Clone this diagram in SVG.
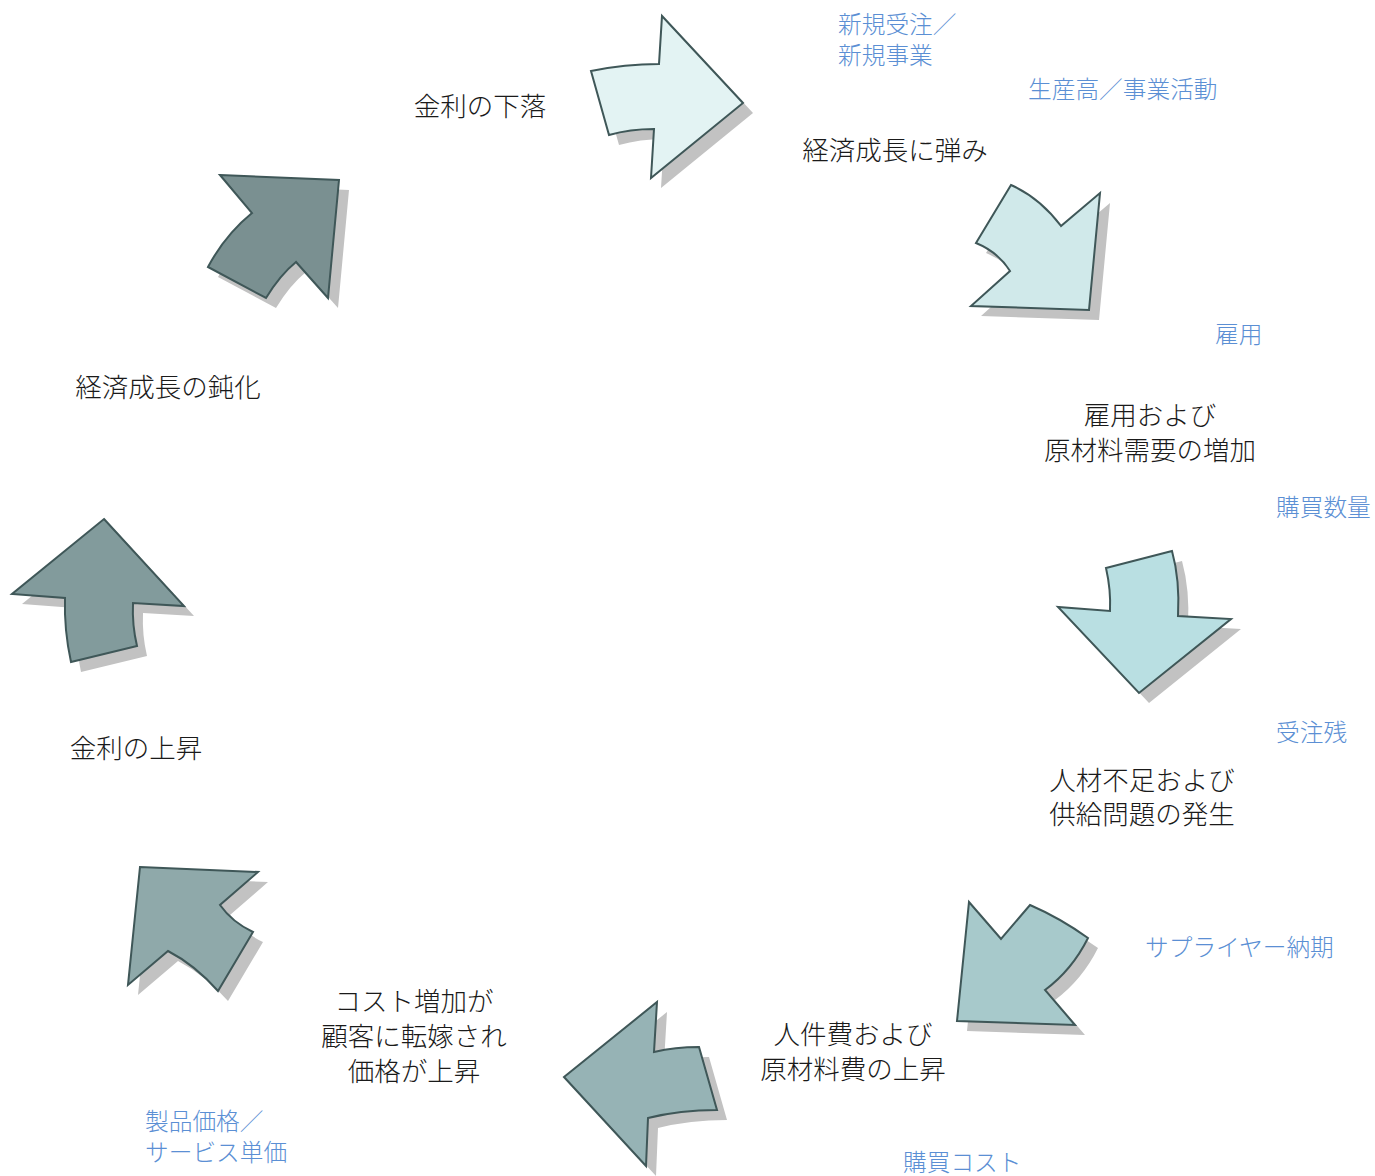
<svg xmlns="http://www.w3.org/2000/svg" xmlns:xlink="http://www.w3.org/1999/xlink" width="1375" height="1176" viewBox="0 0 1375 1176">
<style>
.arr{stroke:#3f5758;stroke-width:2;stroke-linejoin:miter}
.sh{fill:#c2c2c2;stroke:none}
.t{font-family:"Liberation Serif","Noto Sans CJK JP",serif;font-size:26.5px;font-weight:300;fill:#1a1a1a;text-anchor:middle;dominant-baseline:central}
.b{font-family:"Liberation Sans","Noto Sans CJK JP",sans-serif;font-size:23.7px;font-weight:300;fill:#5b8fd4;dominant-baseline:central}
</style>
<defs>
<path id="p1" d="M591,71 Q625,64 659,64 L662,16 L743,103 L651,178 L654,129 Q630,129 609,135 Z"/>
<path id="p2" d="M1011,185 Q1040,198 1061,226 L1100,193 L1089,310 L971,306 L1010,271 Q998,252 976,243 Z"/>
<path id="p3" d="M1106,568 L1172,551 Q1180,580 1178,616 L1231,619 L1139,693 L1058,607 L1110,611 Q1111,590 1106,568 Z"/>
<path id="p4" d="M969,902 L1001,939 L1030,905 Q1060,918 1088,938 Q1072,970 1045,990 L1075,1025 L957,1021 Z"/>
<path id="p5" d="M564,1077 L657,1002 L654,1052 Q675,1047 699,1047 L717,1110 Q680,1110 648,1118 L646,1166 Z"/>
<path id="p6" d="M140,867 L258,872 L220,905 Q232,922 253,932 L218,991 Q195,965 168,951 L128,985 Z"/>
<path id="p7" d="M104,519 L184,606 L133,603 Q132,625 137,646 L71,662 Q64,630 65,598 L12,594 Z"/>
<path id="p8" d="M220,175 L339,180 L328,298 L296,262 Q280,275 266,298 L208,267 Q225,235 252,213 Z"/>
</defs>
<g id="connectors">
<g id="arrow1"><use xlink:href="#p1" class="sh" transform="translate(10,10)"/><use xlink:href="#p1" class="arr" fill="#e3f3f3"/></g>
<g id="arrow2"><use xlink:href="#p2" class="sh" transform="translate(10,10)"/><use xlink:href="#p2" class="arr" fill="#d0e9ea"/></g>
<g id="arrow3"><use xlink:href="#p3" class="sh" transform="translate(10,10)"/><use xlink:href="#p3" class="arr" fill="#b9dfe2"/></g>
<g id="arrow4"><use xlink:href="#p4" class="sh" transform="translate(10,10)"/><use xlink:href="#p4" class="arr" fill="#a7c9cb"/></g>
<g id="arrow5"><use xlink:href="#p5" class="sh" transform="translate(10,10)"/><use xlink:href="#p5" class="arr" fill="#96b3b5"/></g>
<g id="arrow6"><use xlink:href="#p6" class="sh" transform="translate(10,10)"/><use xlink:href="#p6" class="arr" fill="#8fa9aa"/></g>
<g id="arrow7"><use xlink:href="#p7" class="sh" transform="translate(10,10)"/><use xlink:href="#p7" class="arr" fill="#829b9c"/></g>
<g id="arrow8"><use xlink:href="#p8" class="sh" transform="translate(10,10)"/><use xlink:href="#p8" class="arr" fill="#7a9091"/></g>
</g>
<g id="node-kinri-geraku"><text class="t" x="480" y="107">金利の下落</text></g>
<g id="node-keizai-hazumi"><text class="t" x="895" y="151">経済成長に弾み</text></g>
<g id="node-koyou"><text class="t" x="1150" y="416">雇用および</text><text class="t" x="1150" y="451">原材料需要の増加</text></g>
<g id="node-jinzai"><text class="t" x="1142" y="781">人材不足および</text><text class="t" x="1142" y="815">供給問題の発生</text></g>
<g id="node-jinkenhi"><text class="t" x="853" y="1035">人件費および</text><text class="t" x="853" y="1070">原材料費の上昇</text></g>
<g id="node-cost"><text class="t" x="414" y="1002">コスト増加が</text><text class="t" x="414" y="1037">顧客に転嫁され</text><text class="t" x="414" y="1072">価格が上昇</text></g>
<g id="node-kinri-joushou"><text class="t" x="136" y="749">金利の上昇</text></g>
<g id="node-keizai-donka"><text class="t" x="168" y="388">経済成長の鈍化</text></g>
<g id="labels">
<text class="b" x="838" y="25">新規受注／</text>
<text class="b" x="838" y="56">新規事業</text>
<text class="b" x="1028" y="90">生産高／事業活動</text>
<text class="b" x="1215" y="335">雇用</text>
<text class="b" x="1276" y="508">購買数量</text>
<text class="b" x="1276" y="733">受注残</text>
<text class="b" x="1145" y="948">サプライヤー納期</text>
<text class="b" x="903" y="1163">購買コスト</text>
<text class="b" x="145" y="1122">製品価格／</text>
<text class="b" x="145" y="1153">サービス単価</text>
</g>
</svg>
